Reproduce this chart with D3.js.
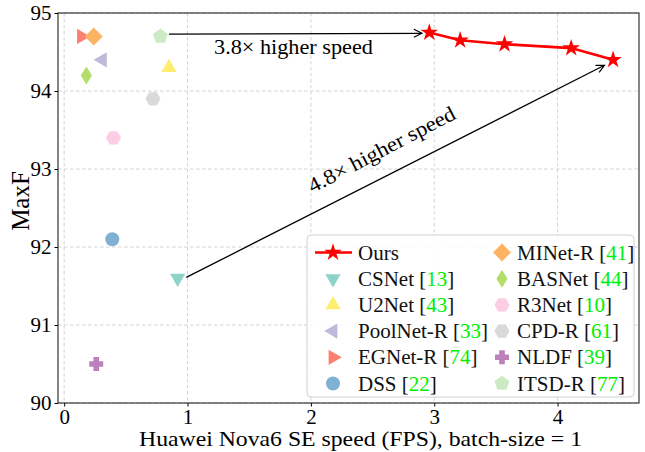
<!DOCTYPE html>
<html>
<head>
<meta charset="utf-8">
<script src="https://cdn.jsdelivr.net/npm/d3@7"></script>
<style>
  body { margin: 0; background: #fff; }
  svg { display: block; font-family: "Liberation Serif", "DejaVu Serif", serif; }
</style>
</head>
<body>
<div id="chart"></div>
<script>
// our model, several speed/accuracy settings
const oursFps = [2.96, 3.21, 3.57, 4.11, 4.45];
const oursMaxF = [94.75, 94.65, 94.6, 94.55, 94.4];

// other methods
const names  = ["CSNet", "U2Net", "PoolNet-R", "EGNet-R", "DSS", "MINet-R", "BASNet", "R3Net", "CPD-R", "NLDF", "ITSD-R"];
const refs   = ["13", "43", "33", "74", "22", "41", "44", "10", "61", "39", "77"];
const fps    = [0.92, 0.85, 0.31, 0.14, 0.39, 0.24, 0.18, 0.40, 0.72, 0.26, 0.78];
const maxF   = [91.6, 94.3, 94.4, 94.7, 92.1, 94.7, 94.2, 93.4, 93.9, 90.5, 94.7];
const colors = ["#8dd3c7", "#ffed6f", "#bebada", "#fb8072", "#80b1d3", "#fdb462", "#b3de69", "#fccde5", "#d9d9d9", "#bc80bd", "#ccebc5"];
const shapes = ["triDown", "triUp", "triLeft", "triRight", "circle", "diamond", "thinDiamond", "hexagon", "hexagon", "plus", "pentagon"];

const xTicks = [0, 1, 2, 3, 4];
const yTicks = [90, 91, 92, 93, 94, 95];

// annotations: [fromX, fromY, toX, toY]
const arrowFast = [0.85, 94.73, 2.90, 94.74];
const arrowSlow = [0.99, 91.61, 4.38, 94.33];

const W = 645, H = 452;
const margin = { left: 58, right: 6, top: 13, bottom: 49 };

const svg = d3.select("#chart").append("svg").attr("width", W).attr("height", H);

const x = d3.scaleLinear().domain([-0.05, 4.66]).range([margin.left, W - margin.right]);
const y = d3.scaleLinear().domain([90, 95]).range([H - margin.bottom, margin.top]);

// grid
svg.append("g").selectAll("line").data(xTicks).join("line")
  .attr("x1", d => x(d)).attr("x2", d => x(d))
  .attr("y1", y(95)).attr("y2", y(90))
  .attr("stroke", "#cfcfcf").attr("stroke-width", 0.9).attr("stroke-dasharray", "3.5,2.5");
svg.append("g").selectAll("line").data(yTicks).join("line")
  .attr("y1", d => y(d)).attr("y2", d => y(d))
  .attr("x1", x.range()[0]).attr("x2", x.range()[1])
  .attr("stroke", "#cfcfcf").attr("stroke-width", 0.9).attr("stroke-dasharray", "3.5,2.5");

// axes
const xAxis = svg.append("g")
  .attr("transform", `translate(0,${y(90)})`)
  .call(d3.axisBottom(x).tickValues(xTicks).tickSize(3.5).tickPadding(3).tickFormat(d3.format("d")));
const yAxis = svg.append("g")
  .attr("transform", `translate(${x.range()[0]},0)`)
  .call(d3.axisLeft(y).tickValues(yTicks).tickSize(3.5).tickPadding(3).tickFormat(d3.format("d")));
[xAxis, yAxis].forEach(a => {
  a.select(".domain").remove();
  a.selectAll("text").attr("font-family", "Liberation Serif").attr("font-size", 21).attr("fill", "#000");
  a.selectAll("line").attr("stroke", "#000");
});

// frame
svg.append("rect")
  .attr("x", x.range()[0]).attr("y", y(95))
  .attr("width", x.range()[1] - x.range()[0]).attr("height", y(90) - y(95))
  .attr("fill", "none").attr("stroke", "#222").attr("stroke-width", 1.1);

// axis labels
svg.append("text")
  .attr("x", 139).attr("y", 446)
  .attr("font-size", 21.5)
  .attr("textLength", 443).attr("lengthAdjust", "spacingAndGlyphs")
  .text("Huawei Nova6 SE speed (FPS), batch-size = 1");
svg.append("text")
  .attr("transform", `translate(28.5,201) rotate(-90)`)
  .attr("text-anchor", "middle").attr("font-size", 25)
  .text("MaxF");

// marker paths
function poly(pts) { return "M" + pts.map(p => p.join(",")).join("L") + "Z"; }
function regular(n, r, start) {
  return poly(d3.range(n).map(i => {
    const a = (start + i * 360 / n) * Math.PI / 180;
    return [r * Math.cos(a), r * Math.sin(a)];
  }));
}
const symbolPath = {
  triUp: () => regular(3, 8.8, -90),
  triDown: () => regular(3, 8.8, 90),
  triLeft: () => regular(3, 8.8, 180),
  triRight: () => regular(3, 8.8, 0),
  circle: () => d3.symbol(d3.symbolCircle, Math.PI * 7 * 7)(),
  diamond: () => poly([[0, -9], [9, 0], [0, 9], [-9, 0]]),
  thinDiamond: () => poly([[0, -9], [5.6, 0], [0, 9], [-5.6, 0]]),
  hexagon: () => regular(6, 7.6, 0),
  pentagon: () => regular(5, 7.8, -90),
  plus: () => poly([[-2.8, -7], [2.8, -7], [2.8, -2.8], [7, -2.8], [7, 2.8], [2.8, 2.8], [2.8, 7], [-2.8, 7], [-2.8, 2.8], [-7, 2.8], [-7, -2.8], [-2.8, -2.8]]),
  star: () => d3.symbol(d3.symbolStar, 95)()
};

// annotation arrows
svg.append("defs").append("marker")
  .attr("id", "head").attr("viewBox", "-10 -6 12 12")
  .attr("markerWidth", 12).attr("markerHeight", 12)
  .attr("markerUnits", "userSpaceOnUse").attr("orient", "auto")
  .append("path").attr("d", "M-8,-4L0,0L-8,4")
  .attr("fill", "none").attr("stroke", "#000").attr("stroke-width", 1.2);
[arrowFast, arrowSlow].forEach(a => {
  svg.append("line")
    .attr("x1", x(a[0])).attr("y1", y(a[1]))
    .attr("x2", x(a[2])).attr("y2", y(a[3]))
    .attr("stroke", "#000").attr("stroke-width", 1.3)
    .attr("marker-end", "url(#head)");
});
svg.append("text")
  .attr("x", 214).attr("y", 54).attr("font-size", 21)
  .attr("textLength", 159).attr("lengthAdjust", "spacingAndGlyphs")
  .text("3.8\u00d7 higher speed");
svg.append("text")
  .attr("transform", `translate(${x(2.6)},${y(93.17)}) rotate(-27.5)`)
  .attr("text-anchor", "middle").attr("font-size", 21)
  .attr("textLength", 163).attr("lengthAdjust", "spacingAndGlyphs")
  .text("4.8\u00d7 higher speed");

// other methods
svg.append("g").selectAll("path").data(names).join("path")
  .attr("transform", (d, i) => `translate(${x(fps[i])},${y(maxF[i])})`)
  .attr("d", (d, i) => symbolPath[shapes[i]]())
  .attr("fill", (d, i) => colors[i]);

// ours
const line = d3.line().x(d => x(d[0])).y(d => y(d[1]));
const oursPts = oursFps.map((f, i) => [f, oursMaxF[i]]);
svg.append("path").attr("d", line(oursPts))
  .attr("fill", "none").attr("stroke", "#ff0000").attr("stroke-width", 2.6);
svg.append("g").selectAll("path").data(oursPts).join("path")
  .attr("transform", d => `translate(${x(d[0])},${y(d[1])})`)
  .attr("d", symbolPath.star()).attr("fill", "#ff0000");

// legend
const leg = svg.append("g");
leg.append("rect").attr("x", 307).attr("y", 235).attr("width", 327).attr("height", 162)
  .attr("rx", 4).attr("fill", "#fff").attr("fill-opacity", 0.85)
  .attr("stroke", "#d0d0d0").attr("stroke-width", 1);

const legendItems = [{ name: "Ours", ref: null, shape: "star", color: "#ff0000", line: true }]
  .concat(names.map((n, i) => ({ name: n, ref: refs[i], shape: shapes[i], color: colors[i] })));
legendItems.forEach((it, k) => {
  const col = k < 6 ? 0 : 1;
  const row = k % 6;
  const mx = col === 0 ? 333 : 502;
  const tx = col === 0 ? 358 : 517;
  const ry = 252.5 + row * 26.2;
  if (it.line) {
    leg.append("line").attr("x1", mx - 18).attr("x2", mx + 19).attr("y1", ry).attr("y2", ry)
      .attr("stroke", it.color).attr("stroke-width", 2.6);
  }
  leg.append("path").attr("transform", `translate(${mx},${ry})`)
    .attr("d", symbolPath[it.shape]()).attr("fill", it.color);
  const t = leg.append("text").attr("x", tx).attr("y", ry + 7).attr("font-size", 21).attr("fill", "#111");
  t.append("tspan").text(it.name);
  if (it.ref) {
    t.append("tspan").text(" [");
    t.append("tspan").attr("fill", "#00ee00").text(it.ref);
    t.append("tspan").text("]");
  }
});
</script>
</body>
</html>
